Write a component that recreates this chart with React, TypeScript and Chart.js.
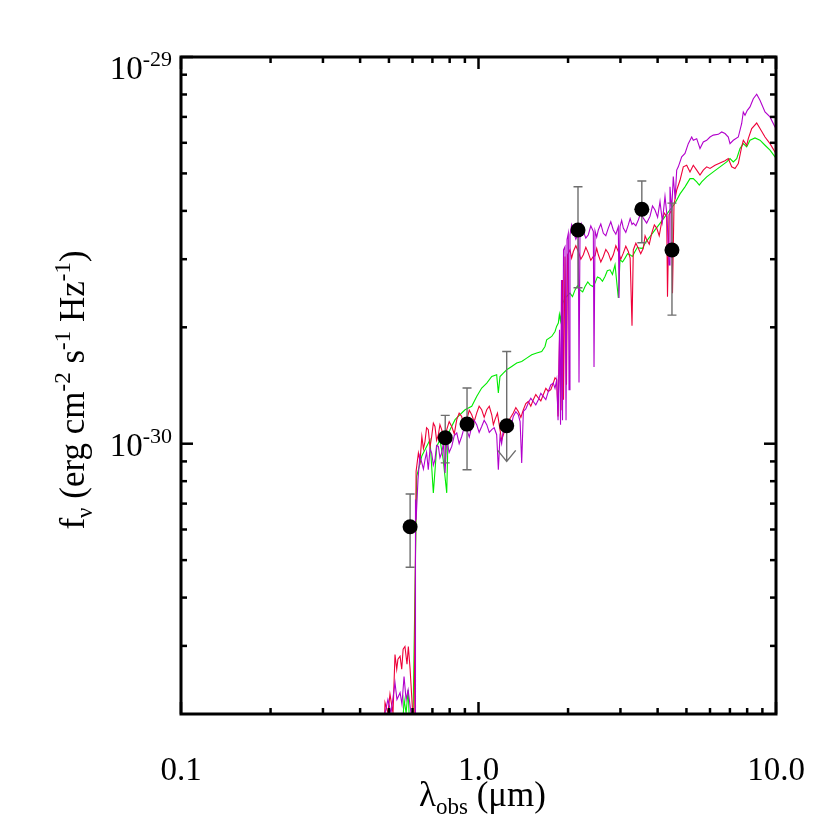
import React, { useEffect, useRef } from 'react';
import { Chart, registerables } from 'chart.js';

Chart.register(...registerables);

// flux unit used in the arrays below (erg cm^-2 s^-1 Hz^-1)
const FLUX_UNIT = 1e-30;

// ---- model spectrum (magenta) ----
const magentaLambda = [
  0.478, 0.485, 0.496, 0.508, 0.524, 0.532, 0.545, 0.553, 0.562, 0.571,
  0.580, 0.593, 0.607, 0.612, 0.614, 0.617, 0.626, 0.635, 0.645, 0.653,
  0.661, 0.669, 0.678, 0.687, 0.696, 0.705, 0.714, 0.723, 0.733, 0.742,
  0.752, 0.762, 0.772, 0.782, 0.797, 0.813, 0.829, 0.845, 0.861, 0.878,
  0.895, 0.913, 0.931, 0.949, 0.967, 0.986, 1.005, 1.025, 1.045, 1.066,
  1.087, 1.108, 1.129, 1.151, 1.166, 1.181, 1.196, 1.212, 1.235, 1.259,
  1.284, 1.309, 1.335, 1.361, 1.380, 1.397, 1.415, 1.442, 1.470, 1.499,
  1.528, 1.558, 1.589, 1.620, 1.651, 1.684, 1.717, 1.750, 1.784, 1.808,
  1.832, 1.851, 1.872, 1.887, 1.901, 1.916, 1.931, 1.953, 1.969, 1.984,
  2.004, 2.015, 2.030, 2.056, 2.083, 2.124, 2.165, 2.177, 2.194, 2.222,
  2.251, 2.295, 2.340, 2.385, 2.432, 2.445, 2.464, 2.496, 2.528, 2.577,
  2.628, 2.679, 2.731, 2.784, 2.839, 2.895, 2.951, 2.967, 2.990, 3.028,
  3.067, 3.127, 3.188, 3.234, 3.281, 3.314, 3.380, 3.445, 3.510, 3.581,
  3.675, 3.771, 3.845, 3.920, 4.000, 4.075, 4.150, 4.235, 4.300, 4.370,
  4.402, 4.460, 4.516, 4.580, 4.637, 4.694, 4.820, 4.944, 5.072, 5.207,
  5.272, 5.413, 5.553, 5.696, 5.848, 6.000, 6.155, 6.398, 6.569, 6.739,
  6.913, 7.005, 7.186, 7.469, 7.668, 7.764, 7.867, 8.008, 8.177, 8.389,
  8.612, 8.835, 9.184, 9.547, 9.923, 10.0,
];
const magentaFlux = [
  0.172, 0.201, 0.218, 0.201, 0.241, 0.218, 0.227, 0.212, 0.250, 0.218,
  0.231, 0.201, 0.172, 0.172, 0.717, 0.636, 0.807, 0.930, 0.892, 0.860,
  0.909, 0.950, 0.857, 0.970, 0.946, 0.880, 0.909, 0.990, 0.984, 0.920,
  0.946, 1.000, 0.840, 1.024, 0.950, 0.984, 1.050, 1.066, 1.000, 1.044,
  1.100, 1.087, 1.040, 1.108, 1.150, 1.120, 1.070, 1.108, 1.150, 1.120,
  1.070, 1.087, 1.100, 1.055, 0.857, 1.044, 1.000, 1.087, 1.130, 1.131,
  1.100, 1.176, 1.210, 1.188, 1.140, 0.892, 1.212, 1.230, 1.274, 1.310,
  1.286, 1.260, 1.299, 1.350, 1.325, 1.300, 1.365, 1.420, 1.435, 1.390,
  1.464, 1.150, 1.970, 1.120, 2.650, 1.150, 3.170, 3.230, 1.150, 3.370,
  3.500, 1.380, 3.470, 3.680, 3.540, 3.380, 3.500, 1.440, 3.530, 3.700,
  3.540, 3.400, 3.470, 3.660, 3.540, 1.580, 3.550, 3.420, 3.570, 3.700,
  3.500, 3.450, 3.610, 3.750, 3.570, 3.480, 3.640, 2.380, 3.640, 3.780,
  3.610, 3.520, 3.680, 3.820, 3.690, 3.720, 3.660, 3.790, 3.950, 3.830,
  3.720, 3.870, 4.120, 4.020, 3.850, 4.230, 3.750, 4.360, 3.900, 2.900,
  4.620, 4.000, 4.910, 4.300, 5.100, 5.200, 5.520, 5.630, 5.970, 6.210,
  6.090, 6.150, 5.800, 6.030, 6.090, 6.210, 6.280, 6.310, 6.400, 6.340,
  6.210, 5.970, 6.090, 6.210, 6.730, 7.210, 7.070, 7.280, 7.430, 7.800,
  8.010, 7.730, 7.210, 7.000, 6.590, 6.530,
];

// ---- model spectrum (red) ----
const redLambda = [
  0.481, 0.485, 0.496, 0.504, 0.516, 0.524, 0.531, 0.536, 0.545, 0.552,
  0.558, 0.566, 0.575, 0.581, 0.589, 0.601, 0.607, 0.617, 0.628, 0.636,
  0.645, 0.653, 0.661, 0.669, 0.678, 0.687, 0.696, 0.705, 0.714, 0.723,
  0.733, 0.742, 0.752, 0.767, 0.782, 0.797, 0.813, 0.829, 0.845, 0.861,
  0.878, 0.895, 0.913, 0.931, 0.949, 0.967, 0.986, 1.005, 1.025, 1.045,
  1.066, 1.087, 1.108, 1.122, 1.136, 1.158, 1.181, 1.196, 1.212, 1.235,
  1.259, 1.284, 1.309, 1.335, 1.361, 1.388, 1.415, 1.442, 1.470, 1.499,
  1.528, 1.558, 1.589, 1.620, 1.651, 1.684, 1.717, 1.750, 1.784, 1.808,
  1.832, 1.851, 1.872, 1.894, 1.916, 1.931, 1.953, 1.976, 1.992, 2.030,
  2.056, 2.083, 2.124, 2.165, 2.208, 2.251, 2.295, 2.340, 2.385, 2.432,
  2.464, 2.496, 2.528, 2.577, 2.628, 2.679, 2.731, 2.784, 2.839, 2.895,
  2.951, 3.008, 3.067, 3.127, 3.188, 3.234, 3.281, 3.314, 3.380, 3.445,
  3.510, 3.581, 3.630, 3.676, 3.750, 3.821, 3.900, 3.972, 4.050, 4.129,
  4.210, 4.291, 4.318, 4.369, 4.461, 4.488, 4.541, 4.637, 4.757, 4.880,
  5.010, 5.139, 5.272, 5.413, 5.553, 5.696, 5.848, 6.000, 6.237, 6.483,
  6.739, 6.913, 7.097, 7.281, 7.469, 7.668, 7.764, 7.971, 8.070, 8.286,
  8.612, 8.835, 9.184, 9.547, 9.923, 10.0,
];
const redFlux = [
  0.172, 0.214, 0.201, 0.225, 0.201, 0.285, 0.261, 0.277, 0.282, 0.261,
  0.294, 0.299, 0.269, 0.299, 0.261, 0.201, 0.172, 0.848, 0.946, 0.900,
  1.044, 0.970, 1.014, 1.100, 1.087, 0.980, 1.044, 1.130, 1.108, 1.020,
  1.055, 1.120, 1.087, 1.020, 1.087, 1.140, 1.108, 1.060, 1.154, 1.200,
  1.176, 1.100, 1.154, 1.220, 1.188, 1.140, 1.200, 1.250, 1.224, 1.170,
  1.224, 1.250, 1.188, 1.120, 1.154, 1.200, 1.087, 1.020, 1.055, 1.100,
  1.142, 1.170, 1.200, 1.240, 1.212, 1.170, 1.224, 1.270, 1.286, 1.250,
  1.299, 1.340, 1.313, 1.290, 1.338, 1.390, 1.365, 1.380, 1.435, 1.480,
  1.464, 1.176, 1.860, 1.220, 2.650, 1.300, 3.050, 1.420, 3.080, 3.170,
  3.020, 3.140, 3.250, 3.140, 3.000, 3.080, 3.220, 3.110, 2.980, 3.050,
  3.060, 3.200, 3.080, 2.950, 3.050, 3.180, 3.110, 2.980, 3.080, 3.250,
  3.140, 3.000, 3.110, 3.240, 3.140, 3.020, 2.020, 3.170, 3.300, 3.200,
  3.100, 3.200, 3.450, 3.370, 3.280, 3.500, 3.680, 3.610, 3.450, 3.750,
  3.950, 3.870, 2.400, 3.910, 4.020, 2.450, 4.150, 4.530, 4.800, 5.200,
  5.250, 5.040, 5.250, 5.100, 4.950, 5.100, 5.200, 5.150, 5.250, 5.320,
  5.390, 5.460, 5.200, 5.150, 5.300, 5.860, 6.090, 5.910, 6.150, 6.530,
  6.750, 6.530, 6.210, 5.970, 5.680, 5.620,
];

// ---- model spectrum (green) ----
const greenLambda = [
  0.553, 0.562, 0.571, 0.580, 0.589, 0.601, 0.620, 0.645, 0.661, 0.687,
  0.705, 0.724, 0.742, 0.761, 0.782, 0.790, 0.802, 0.834, 0.855, 0.901,
  0.949, 0.986, 1.025, 1.066, 1.108, 1.151, 1.166, 1.181, 1.212, 1.244,
  1.293, 1.344, 1.397, 1.452, 1.510, 1.569, 1.631, 1.673, 1.695, 1.762,
  1.808, 1.830, 1.855, 1.870, 1.885, 1.904, 1.920, 1.953, 2.030, 2.070,
  2.111, 2.150, 2.194, 2.240, 2.281, 2.330, 2.371, 2.420, 2.464, 2.510,
  2.561, 2.610, 2.662, 2.710, 2.767, 2.820, 2.877, 2.951, 2.990, 3.050,
  3.108, 3.170, 3.231, 3.290, 3.358, 3.420, 3.491, 3.560, 3.628, 3.771,
  3.920, 4.075, 4.235, 4.402, 4.576, 4.757, 4.944, 5.139, 5.272, 5.413,
  5.523, 5.626, 5.848, 6.155, 6.483, 6.828, 7.005, 7.186, 7.377, 7.568,
  7.764, 7.971, 8.177, 8.500, 8.835, 9.184, 9.547, 9.923, 10.0,
];
const greenFlux = [
  0.172, 0.218, 0.201, 0.231, 0.172, 0.172, 0.823, 0.930, 0.965, 1.024,
  0.746, 0.984, 1.024, 0.909, 0.746, 1.044, 1.087, 1.154, 1.176, 1.224,
  1.249, 1.325, 1.393, 1.435, 1.492, 1.508, 1.352, 1.492, 1.523, 1.553,
  1.584, 1.617, 1.632, 1.665, 1.698, 1.716, 1.732, 1.784, 1.857, 1.894,
  1.951, 2.010, 2.051, 2.160, 2.080, 2.220, 2.310, 2.379, 2.451, 2.400,
  2.499, 2.560, 2.499, 2.470, 2.549, 2.620, 2.575, 2.550, 2.602, 2.700,
  2.680, 2.630, 2.706, 2.800, 2.816, 2.740, 2.901, 2.383, 2.989, 2.950,
  3.019, 3.100, 3.079, 3.050, 3.140, 3.220, 3.204, 3.200, 3.301, 3.433,
  3.572, 3.715, 3.867, 4.024, 4.187, 4.426, 4.615, 4.848, 4.848, 4.754,
  4.662, 4.754, 4.897, 5.045, 5.198, 5.355, 5.461, 5.355, 5.461, 5.796,
  5.971, 5.855, 6.093, 6.177, 6.093, 5.913, 5.740, 5.516, 5.480,
];

// ---- photometry (black points, grey error bars) ----
const photLambda = [0.589, 0.773, 0.915, 1.244, 2.16, 3.54, 4.47];
const photFlux = [0.610, 1.036, 1.124, 1.113, 3.57, 4.04, 3.17];
const photErrHigh = [0.741, 1.184, 1.393, 1.732, 4.62, 4.78, 4.19];
const photErrLow = [0.479, 0.892, 0.856, 0.900, 2.53, 3.31, 2.15];
const photUpperLimit = [false, false, false, true, false, false, false];

// ---- axes ----
const xMin = 0.1;
const xMax = 10;
const yMin = 2e-31;
const yMax = 1e-29;
const xMajorTicks = [0.1, 1, 10];
const xTickLabels = ['0.1', '1.0', '10.0'];
const xMinorTicks = [0.2, 0.3, 0.4, 0.5, 0.6, 0.7, 0.8, 0.9, 2, 3, 4, 5, 6, 7, 8, 9];
const yMajorTicks = [1e-30, 1e-29];
const yTickExponents = ['-30', '-29'];
const yMinorTicks = [3e-31, 4e-31, 5e-31, 6e-31, 7e-31, 8e-31, 9e-31, 2e-30, 3e-30, 4e-30, 5e-30, 6e-30, 7e-30, 8e-30, 9e-30];

const xTitleParts = [
  { t: 'λ', kind: 'main' },
  { t: 'obs', kind: 'sub' },
  { t: ' (μm)', kind: 'main' },
];
const yTitleParts = [
  { t: 'f', kind: 'main' },
  { t: 'ν', kind: 'sub' },
  { t: ' (erg cm', kind: 'main' },
  { t: '-2', kind: 'sup' },
  { t: ' s', kind: 'main' },
  { t: '-1', kind: 'sup' },
  { t: ' Hz', kind: 'main' },
  { t: '-1', kind: 'sup' },
  { t: ')', kind: 'main' },
];

const FONT = '"Liberation Serif", "Times New Roman", serif';

const toPoints = (xs: number[], ys: number[]) =>
  xs.map((x, i) => ({ x, y: ys[i] * FLUX_UNIT }));

const drawRich = (ctx: CanvasRenderingContext2D, parts: { t: string; kind: string }[], main: number, small: number, startX: number, baseY: number) => {
  let cx = startX;
  parts.forEach((p) => {
    const size = p.kind === 'main' ? main : small;
    const dy = p.kind === 'sub' ? 8 : p.kind === 'sup' ? -14 : 0;
    ctx.font = `${size}px ${FONT}`;
    ctx.fillText(p.t, cx, baseY + dy);
    cx += ctx.measureText(p.t).width;
  });
};
const richWidth = (ctx: CanvasRenderingContext2D, parts: { t: string; kind: string }[], main: number, small: number) => {
  let w = 0;
  parts.forEach((p) => {
    ctx.font = `${p.kind === 'main' ? main : small}px ${FONT}`;
    w += ctx.measureText(p.t).width;
  });
  return w;
};

const framePlugin = {
  id: 'sedFrame',
  beforeDatasetDraw(chart: any, args: any) {
    if (args.index !== 0) return;
    const { ctx, scales } = chart;
    const xs = scales.x;
    const ys = scales.y;
    ctx.save();
    ctx.strokeStyle = '#6e6e6e';
    ctx.lineWidth = 1.4;
    const cap = 4.5;
    photLambda.forEach((l, i) => {
      const px = xs.getPixelForValue(l);
      const pHi = ys.getPixelForValue(photErrHigh[i] * FLUX_UNIT);
      const pLo = ys.getPixelForValue(photErrLow[i] * FLUX_UNIT);
      ctx.beginPath();
      ctx.moveTo(px, pHi);
      ctx.lineTo(px, pLo);
      ctx.moveTo(px - cap, pHi);
      ctx.lineTo(px + cap, pHi);
      if (photUpperLimit[i]) {
        ctx.moveTo(px - 9, pLo - 11);
        ctx.lineTo(px, pLo);
        ctx.lineTo(px + 9, pLo - 11);
      } else {
        ctx.moveTo(px - cap, pLo);
        ctx.lineTo(px + cap, pLo);
      }
      ctx.stroke();
    });
    ctx.restore();
  },
  afterDraw(chart: any) {
    const { ctx, chartArea, scales } = chart;
    const { left, right, top, bottom } = chartArea;
    const xs = scales.x;
    const ys = scales.y;
    ctx.save();
    ctx.strokeStyle = '#000';
    ctx.lineWidth = 3;
    ctx.strokeRect(left, top, right - left, bottom - top);

    const tick = (x1: number, y1: number, x2: number, y2: number) => {
      ctx.beginPath();
      ctx.moveTo(x1, y1);
      ctx.lineTo(x2, y2);
      ctx.stroke();
    };
    ctx.lineWidth = 2.5;
    xMajorTicks.forEach((v) => {
      const p = xs.getPixelForValue(v);
      tick(p, bottom, p, bottom - 12);
      tick(p, top, p, top + 12);
    });
    xMinorTicks.forEach((v) => {
      const p = xs.getPixelForValue(v);
      tick(p, bottom, p, bottom - 6);
      tick(p, top, p, top + 6);
    });
    yMajorTicks.forEach((v) => {
      const p = ys.getPixelForValue(v);
      tick(left, p, left + 12, p);
      tick(right, p, right - 12, p);
    });
    yMinorTicks.forEach((v) => {
      const p = ys.getPixelForValue(v);
      tick(left, p, left + 6, p);
      tick(right, p, right - 6, p);
    });

    // tick labels
    ctx.fillStyle = '#000';
    ctx.textBaseline = 'alphabetic';
    ctx.font = `33px ${FONT}`;
    ctx.textAlign = 'center';
    xMajorTicks.forEach((v, i) => {
      const p = xs.getPixelForValue(v);
      ctx.fillText(xTickLabels[i], p, bottom + 66);
    });

    yMajorTicks.forEach((v, i) => {
      const p = Math.max(ys.getPixelForValue(v), top + 10);
      const rightEdge = left - 9;
      ctx.font = `22px ${FONT}`;
      ctx.textAlign = 'right';
      const supW = ctx.measureText(yTickExponents[i]).width;
      ctx.fillText(yTickExponents[i], rightEdge, p - 1);
      ctx.font = `33px ${FONT}`;
      ctx.fillText('10', rightEdge - supW, p + 12);
    });

    // axis titles
    ctx.textAlign = 'left';
    const xw = richWidth(ctx, xTitleParts, 35, 23);
    drawRich(ctx, xTitleParts, 35, 23, (left + right) / 2 - xw / 2 + 4, bottom + 92);

    const yw = richWidth(ctx, yTitleParts, 35, 23);
    ctx.translate(84, 390);
    ctx.rotate(-Math.PI / 2);
    drawRich(ctx, yTitleParts, 35, 23, -yw / 2, 0);
    ctx.restore();
  },
};

export default function App() {
  const canvasRef = useRef<HTMLCanvasElement | null>(null);

  useEffect(() => {
    if (!canvasRef.current) return;
    const chart = new Chart(canvasRef.current, {
      type: 'line',
      data: {
        datasets: [
          {
            type: 'scatter',
            label: 'photometry',
            data: toPoints(photLambda, photFlux),
            pointRadius: 7.5,
            pointBackgroundColor: '#000',
            pointBorderColor: '#000',
            pointBorderWidth: 0,
          } as any,
          {
            label: 'model magenta',
            data: toPoints(magentaLambda, magentaFlux),
            borderColor: 'rgb(178, 0, 204)',
            borderWidth: 1.1,
            pointRadius: 0,
            fill: false,
          },
          {
            label: 'model red',
            data: toPoints(redLambda, redFlux),
            borderColor: 'rgb(238, 0, 56)',
            borderWidth: 1.1,
            pointRadius: 0,
            fill: false,
          },
          {
            label: 'model green',
            data: toPoints(greenLambda, greenFlux),
            borderColor: 'rgb(0, 235, 0)',
            borderWidth: 1.1,
            pointRadius: 0,
            fill: false,
          },
        ],
      },
      options: {
        animation: false,
        responsive: false,
        layout: { padding: { left: 181, right: 54, top: 57, bottom: 116 } },
        plugins: { legend: { display: false }, tooltip: { enabled: false } },
        elements: { line: { tension: 0 } },
        scales: {
          x: { type: 'logarithmic', min: xMin, max: xMax, display: false },
          y: { type: 'logarithmic', min: yMin, max: yMax, display: false },
        },
      },
      plugins: [framePlugin],
    });
    return () => chart.destroy();
  }, []);

  return (
    <div style={{ position: 'fixed', left: 0, top: 0, width: 830, height: 830, background: '#fff' }}>
      <canvas ref={canvasRef} width={830} height={830} />
    </div>
  );
}
